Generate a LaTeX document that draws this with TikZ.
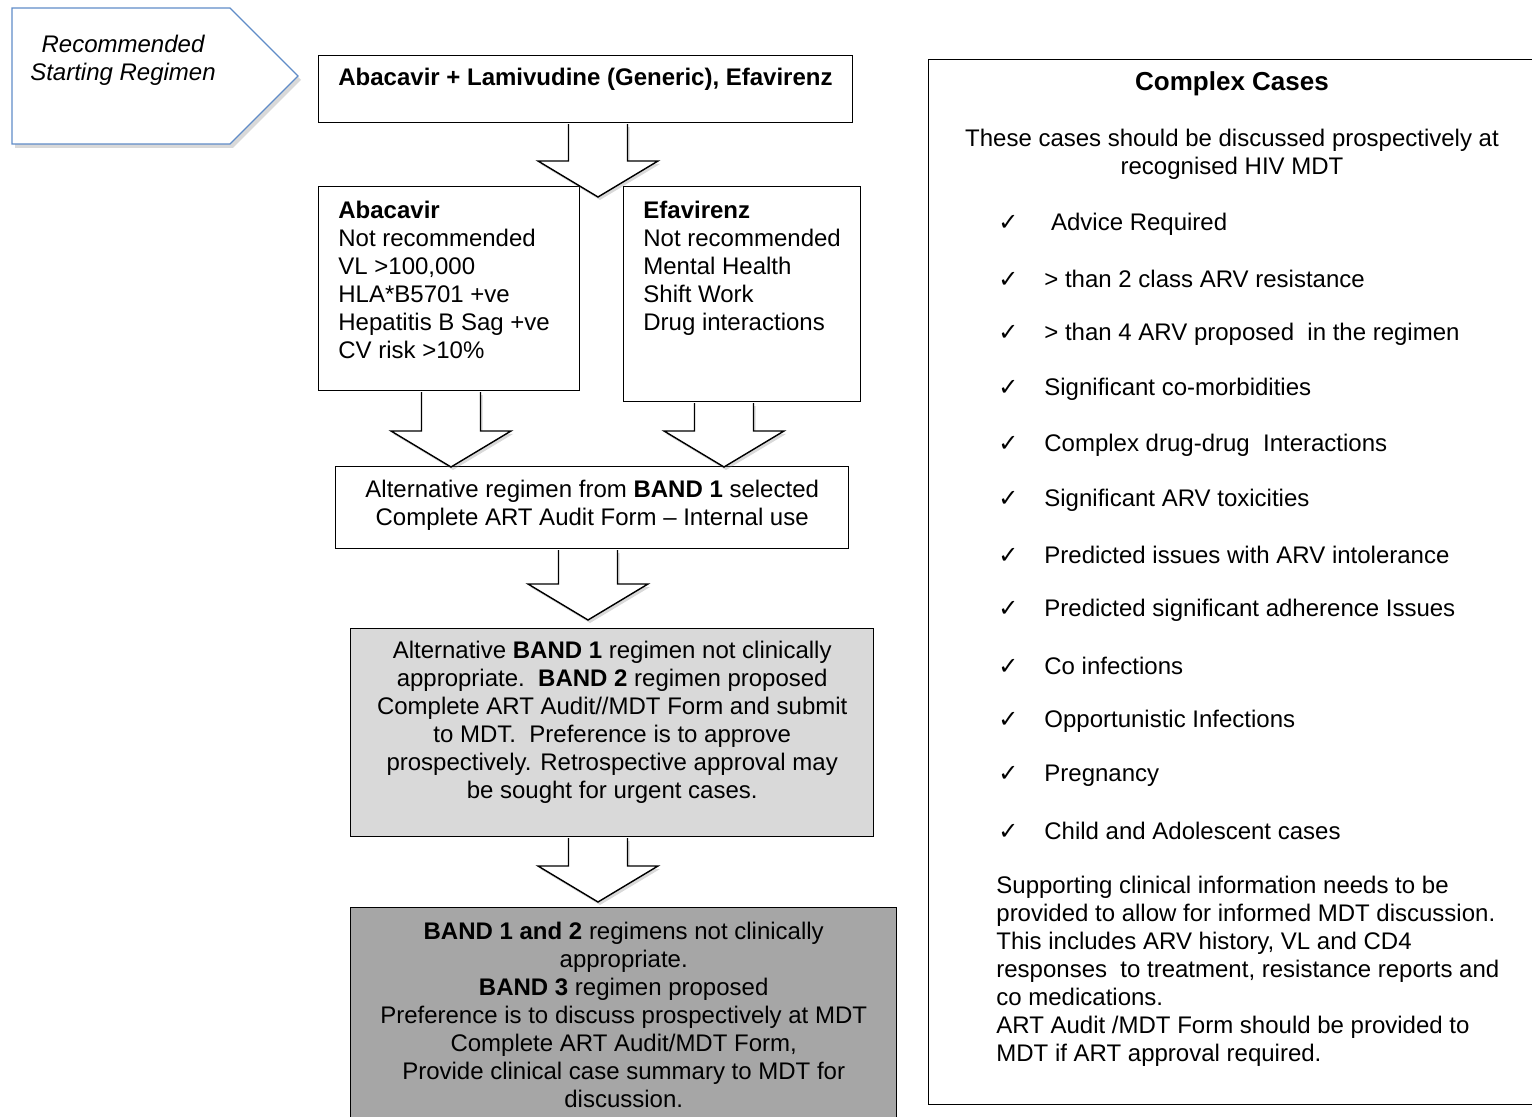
\documentclass[tikz,border=0pt]{standalone}
\usepackage{fontspec}
\setmainfont{Liberation Sans}
\newfontfamily\symfont{DejaVu Sans}
\usepackage{tikz}
\usetikzlibrary{calc}
\usetikzlibrary{shadows}

\definecolor{tagblue}{RGB}{96,140,200}
\definecolor{bandtwo}{RGB}{217,217,217}
\definecolor{bandthree}{RGB}{166,166,166}

\newcommand{\ckm}{\makebox[23pt][l]{\symfont\fontsize{12}{12}\selectfont ✓}}
\newcommand{\blockarrow}[2]{%
    \filldraw[bigarrow] let \p1=(#1), \p2=(#2) in
        (\x2-14.75pt, \y1-0.35pt) -- (\x2-14.75pt, \y2+18pt) -- (\x2-30pt, \y2+18pt)
        -- (\x2, \y2) -- (\x2+30pt, \y2+18pt) -- (\x2+14.75pt, \y2+18pt) -- (\x2+14.75pt, \y1-0.35pt);
}

\begin{document}
\begin{tikzpicture}[x=0.5pt, y=-0.5pt, font=\fontsize{12}{14}\selectfont,
    flowbox/.style={draw, line width=0.7pt, rectangle, inner sep=0pt, anchor=north west},
    txt/.style={inner sep=0pt, align=left, anchor=north west},
    ctxt/.style={inner sep=0pt, align=center},
    item/.style={inner sep=0pt, anchor=west},
    bigarrow/.style={fill=white, draw, line width=0.7pt, line join=miter,
        drop shadow={opacity=0.3, shadow xshift=1pt, shadow yshift=-1.5pt}}]
    \useasboundingbox (0, 0) rectangle (1532, 1117);

    % starting tag
    \filldraw[fill=white, draw=tagblue, line width=0.6pt,
        drop shadow={opacity=0.3, shadow xshift=1.5pt, shadow yshift=-2pt}]
        (12, 8) -- (230, 8) -- (298, 76) -- (230, 144) -- (12, 144) -- cycle;
    \node[ctxt, font=\fontsize{12}{14}\selectfont\itshape] (starttxt) at (123, 60) {Recommended\\Starting Regimen};

    % flow boxes
    \node[flowbox, minimum width=267pt, minimum height=33.5pt] (box1) at (318, 55) {};
    \node[flowbox, minimum width=130.5pt, minimum height=102pt] (abac) at (318, 186) {};
    \node[flowbox, minimum width=118.5pt, minimum height=107.5pt] (efav) at (623, 186) {};
    \node[flowbox, minimum width=256.5pt, minimum height=41pt] (alt) at (335, 466) {};
    \node[flowbox, fill=bandtwo, minimum width=261.5pt, minimum height=104pt] (band2) at (350, 628) {};
    \node[flowbox, fill=bandthree, minimum width=273pt, minimum height=120pt] (band3) at (350, 907) {};

    \node[txt] (box1txt) at ([xshift=10pt, yshift=-6.5pt]box1.north west) {\textbf{Abacavir + Lamivudine (Generic), Efavirenz}};
    \node[txt] (abactxt) at ([xshift=10pt, yshift=-7.5pt]abac.north west) {\textbf{Abacavir}\\Not recommended\\VL >100,000\\HLA*B5701 +ve\\Hepatitis B Sag +ve\\CV risk >10\%};
    \node[txt] (efavtxt) at ([xshift=10pt, yshift=-7.5pt]efav.north west) {\textbf{Efavirenz}\\Not recommended\\Mental Health\\Shift Work\\Drug interactions};
    \node[ctxt] (alttxt) at ([yshift=1.25pt]alt.center) {Alternative regimen from \textbf{BAND 1} selected\\Complete ART Audit Form – Internal use};
    \node[ctxt] (band2txt) at ([yshift=5pt]band2.center) {Alternative \textbf{BAND 1} regimen not clinically\\appropriate.\ \ \textbf{BAND 2} regimen proposed\\Complete ART Audit//MDT Form and submit\\to MDT.\ \ Preference is to approve\\prospectively. Retrospective approval may\\be sought for urgent cases.};
    \node[ctxt] (band3txt) at ([yshift=-54pt]band3.north) {\textbf{BAND 1 and 2} regimens not clinically\\appropriate.\\\textbf{BAND 3} regimen proposed\\Preference is to discuss prospectively at MDT\\Complete ART Audit/MDT Form,\\Provide clinical case summary to MDT for\\discussion.};

    % block arrows
    \coordinate (tip1) at (598, 197);
    \coordinate (tip2) at (451, 467);
    \coordinate (tip3) at (724, 467);
    \coordinate (tip4) at (588, 620);
    \coordinate (tip5) at (598, 902);
    \blockarrow{box1.south}{tip1}
    \blockarrow{abac.south}{tip2}
    \blockarrow{efav.south}{tip3}
    \blockarrow{alt.south}{tip4}
    \blockarrow{band2.south}{tip5}

    % complex cases
    \node[flowbox, minimum width=310pt, minimum height=522.5pt] (cases) at (928, 59) {};
    \node[ctxt, font=\fontsize{13}{15}\selectfont\bfseries] (casestitle) at (1232, 84) {Complex Cases};
    \node[ctxt] (casesintro) at (1232, 154) {These cases should be discussed prospectively at\\recognised HIV MDT};
    \node[item] (c1) at (998, 224) {\ckm\ Advice Required};
    \node[item] (c2) at (998, 279) {\ckm > than 2 class ARV resistance};
    \node[item] (c3) at (998, 334) {\ckm > than 4 ARV proposed\ \ in the regimen};
    \node[item] (c4) at (998, 389) {\ckm Significant co-morbidities};
    \node[item] (c5) at (998, 445) {\ckm Complex drug-drug\ \ Interactions};
    \node[item] (c6) at (998, 500) {\ckm Significant ARV toxicities};
    \node[item] (c7) at (998, 555) {\ckm Predicted issues with ARV intolerance};
    \node[item] (c8) at (998, 610) {\ckm Predicted significant adherence Issues};
    \node[item] (c9) at (998, 666) {\ckm Co infections};
    \node[item] (c10) at (998, 721) {\ckm Opportunistic Infections};
    \node[item] (c11) at (998, 776) {\ckm Pregnancy};
    \node[item] (c12) at (998, 831) {\ckm Child and Adolescent cases};
    \node[txt] (casesnote) at (996, 876) {Supporting clinical information needs to be\\provided to allow for informed MDT discussion.\\This includes ARV history, VL and CD4\\responses\ \ to treatment, resistance reports and\\co medications.\\ART Audit /MDT Form should be provided to\\MDT if ART approval required.};
\end{tikzpicture}
\end{document}
